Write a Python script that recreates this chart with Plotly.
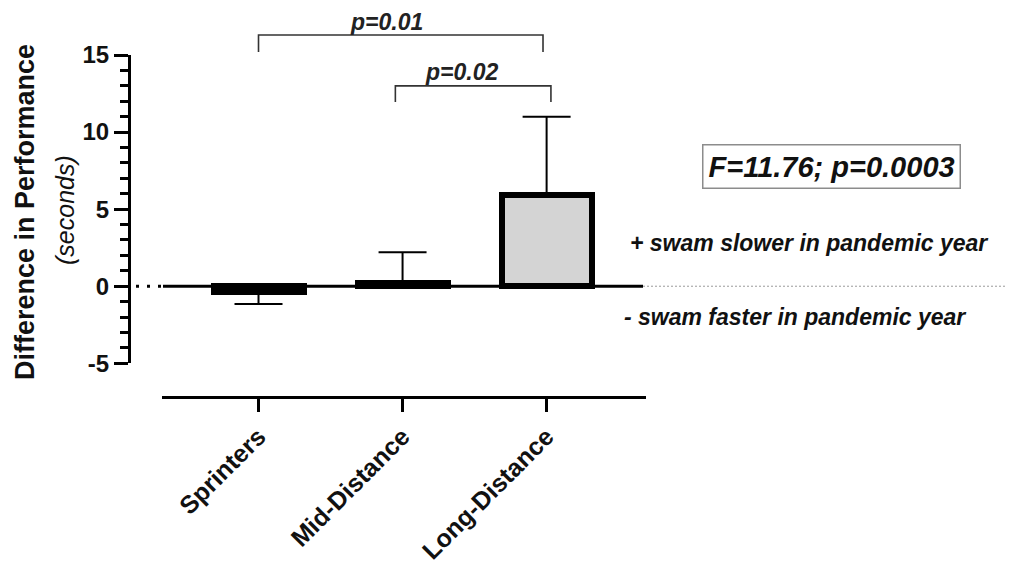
import plotly.graph_objects as go

# ---------------- data ----------------
categories = ["Sprinters", "Mid-Distance", "Long-Distance"]
mean_diff = [-0.4, 0.2, 5.9]
err_plus = [0.0, 2.0, 5.1]
err_minus = [0.75, 0.0, 0.0]

y_tickvals = [-5, 0, 5, 10, 15]
y_ticktext = ["-5", "0", "5", "10", "15"]

# pairwise comparisons (category positions, bracket heights in seconds)
cmp_left = [0.0, 0.95]
cmp_right = [1.975, 2.03]
cmp_top = [16.3, 13.0]
cmp_leg = [15.2, 11.95]
cmp_label = ["p=0.01", "p=0.02"]
cmp_label_x = [0.89, 1.41]
cmp_label_y = [17.15, 13.9]

anova_text = "F=11.76; p=0.0003"
slower_text = "+ swam slower in pandemic year"
faster_text = "- swam faster in pandemic year"

# ---------------- layout geometry ----------------
OFF = 8                    # page body margin of the browser
W, H = 1013 - OFF, 565 - OFF
FONT = "Liberation Sans"


def px(x):
    return (x - OFF) / W


def py(y):
    return 1 - (y - OFF) / H


xpx = (162 - OFF, 646 - OFF)        # x-axis line extent (figure px)
xr = [-0.67, 2.69]
ypx = (55 - OFF, 363.3 - OFF)       # y-axis top / bottom (figure px)
yr = [-5, 15]

sx = (xpx[1] - xpx[0]) / (xr[1] - xr[0])
sy = (ypx[1] - ypx[0]) / (yr[1] - yr[0])
x2r = [xr[0] - xpx[0] / sx, xr[1] + (W - xpx[1]) / sx]
y2r = [yr[0] - (H - ypx[1]) / sy, yr[1] + ypx[0] / sy]

fig = go.Figure()

fig.add_trace(go.Bar(
    x=categories, y=mean_diff, width=0.625,
    marker=dict(color="#d4d4d4", line=dict(color="black", width=6)),
    error_y=dict(type="data", symmetric=False, array=err_plus,
                 arrayminus=err_minus, color="black", thickness=2, width=24),
    showlegend=False, hoverinfo="skip",
))

# invisible overlay subplot spanning the whole figure (for baseline, brackets)
fig.add_trace(go.Scatter(x=[None], y=[None], xaxis="x2", yaxis="y2",
                         showlegend=False, hoverinfo="skip"))

shapes = []
# baseline at zero: dotted left stub, thick solid, dotted grey continuation
x_zero_start = xr[0] + 1 / sx
x_zero_end = xr[0] + (643 - 162) / sx
shapes.append(dict(type="line", xref="x2", yref="y2",
                   x0=xr[0] - 26 / sx, x1=x_zero_start, y0=0, y1=0,
                   line=dict(color="black", width=3, dash="3px,8px")))
shapes.append(dict(type="line", xref="x2", yref="y2",
                   x0=x_zero_start, x1=x_zero_end, y0=0, y1=0,
                   line=dict(color="black", width=3)))
shapes.append(dict(type="line", xref="x2", yref="y2",
                   x0=x_zero_end, x1=x2r[1], y0=0, y1=0,
                   line=dict(color="#9a9a9a", width=1, dash="2px,2px")))

annotations = []
for l, r, t, g, lab, lx, ly in zip(cmp_left, cmp_right, cmp_top, cmp_leg,
                                    cmp_label, cmp_label_x, cmp_label_y):
    shapes.append(dict(type="path", xref="x2", yref="y2",
                       path=f"M {l},{g} L {l},{t} L {r},{t} L {r},{g}",
                       line=dict(color="#333333", width=1.6)))
    annotations.append(dict(xref="x2", yref="y2", x=lx, y=ly, text=f"<b><i>{lab}</i></b>",
                            xanchor="center", yanchor="middle",
                            showarrow=False, font=dict(family=FONT, size=23, color="#222")))

annotations.append(dict(xref="paper", yref="paper", x=px(831.5), y=py(167),
                        xanchor="center", yanchor="middle",
                        text=f"<b><i>{anova_text}</i></b>", showarrow=False,
                        font=dict(family=FONT, size=29, color="#111"),
                        bordercolor="#8c8c8c", borderwidth=1.5, borderpad=5,
                        bgcolor="white"))
annotations.append(dict(xref="paper", yref="paper", x=px(628), y=py(243),
                        xanchor="left", yanchor="middle",
                        text=f"<b><i>{slower_text}</i></b>", showarrow=False,
                        font=dict(family=FONT, size=23, color="#111")))
annotations.append(dict(xref="paper", yref="paper", x=px(622), y=py(317),
                        xanchor="left", yanchor="middle",
                        text=f"<b><i>{faster_text}</i></b>", showarrow=False,
                        font=dict(family=FONT, size=23, color="#111")))
# y-axis title
annotations.append(dict(xref="paper", yref="paper", x=px(25), y=py(212),
                        xanchor="center", yanchor="middle",
                        text="<b>Difference in Performance</b>", textangle=-90,
                        showarrow=False, font=dict(family=FONT, size=27, color="#111")))
annotations.append(dict(xref="paper", yref="paper", x=px(65), y=py(210),
                        xanchor="center", yanchor="middle",
                        text="<i>(seconds)</i>", textangle=-90,
                        showarrow=False, font=dict(family=FONT, size=25, color="#111")))

fig.update_layout(
    width=W, height=H,
    margin=dict(l=0, r=0, t=0, b=0),
    paper_bgcolor="white", plot_bgcolor="rgba(0,0,0,0)",
    bargap=0,
    shapes=shapes, annotations=annotations,
    xaxis=dict(
        domain=[xpx[0] / W, xpx[1] / W], anchor="free", position=py(397),
        type="category", range=xr, showgrid=False, zeroline=False,
        showline=True, linecolor="black", linewidth=3,
        ticks="outside", ticklen=13, tickwidth=3, tickcolor="black",
        tickangle=-45, tickfont=dict(family=FONT, size=25, color="#111", weight="bold"),
        automargin=False, fixedrange=True,
    ),
    yaxis=dict(
        domain=[1 - ypx[1] / H, 1 - ypx[0] / H], anchor="free", position=px(129),
        range=yr, showgrid=False, zeroline=False,
        showline=True, linecolor="black", linewidth=3,
        tickmode="array", tickvals=y_tickvals, ticktext=y_ticktext,
        ticks="outside", ticklen=14, tickwidth=3, tickcolor="black",
        minor=dict(dtick=1, ticks="outside", ticklen=8, tickwidth=3, tickcolor="black", showgrid=False),
        tickfont=dict(family=FONT, size=24, color="#111", weight="bold"),
        automargin=False, fixedrange=True,
    ),
    xaxis2=dict(domain=[0, 1], anchor="y2", range=x2r, visible=False, fixedrange=True),
    yaxis2=dict(domain=[0, 1], anchor="x2", range=y2r, visible=False, fixedrange=True),
)

fig.write_html("out.html")
